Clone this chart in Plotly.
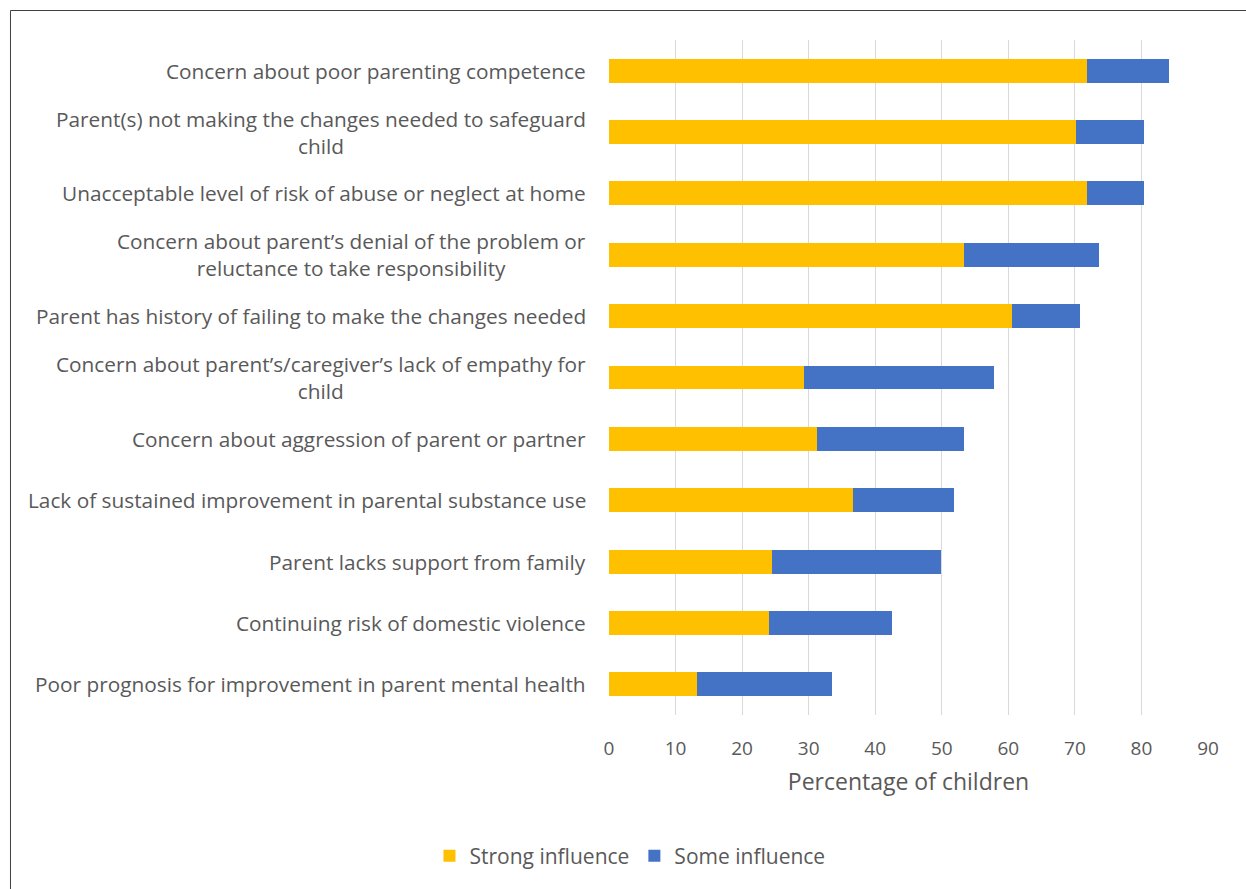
import plotly.graph_objects as go

categories = [
    "Concern about poor parenting competence",
    "Parent(s) not making the changes needed to safeguard<br>child",
    "Unacceptable level of risk of abuse or neglect at home",
    "Concern about parent’s denial of the problem or<br>reluctance to take responsibility",
    "Parent has history of failing to make the changes needed",
    "Concern about parent’s/caregiver’s lack of empathy for<br>child",
    "Concern about aggression of parent or partner",
    "Lack of sustained improvement in parental substance use",
    "Parent lacks support from family",
    "Continuing risk of domestic violence",
    "Poor prognosis for improvement in parent mental health",
]
strong_influence = [71.8, 70.1, 71.8, 53.4, 60.5, 29.3, 31.2, 36.7, 24.5, 24.1, 13.2]
some_influence = [12.4, 10.3, 8.6, 20.2, 10.3, 28.6, 22.2, 15.1, 25.4, 18.4, 20.3]
x_ticks = [0, 10, 20, 30, 40, 50, 60, 70, 80, 90]

FONT = "'Open Sans', Lato, sans-serif"
TXT = "#595959"

fig = go.Figure()
fig.add_trace(go.Bar(y=categories, x=strong_influence, orientation="h",
                     name="Strong influence", marker=dict(color="#FFC000", line=dict(width=0))))
fig.add_trace(go.Bar(y=categories, x=some_influence, orientation="h",
                     name="Some influence", marker=dict(color="#4472C4", line=dict(width=0))))

for c in categories:
    fig.add_annotation(x=0, xref="paper", y=c, yref="y", text=c, showarrow=False,
                       xanchor="right", xshift=-21, align="center",
                       font=dict(family=FONT, size=20.8, color=TXT))

fig.add_shape(type="rect", xref="paper", yref="paper",
              x0=-0.9992, x1=1.2, y0=-0.4, y1=1.0437,
              line=dict(color="#404040", width=1), fillcolor="rgba(0,0,0,0)", layer="below")

fig.update_layout(
    width=1246, height=889,
    margin=dict(l=609, r=38, t=40, b=174),
    paper_bgcolor="white", plot_bgcolor="white",
    barmode="stack", bargap=0.61,
    font=dict(family=FONT, color=TXT),
    legend=dict(orientation="h", x=0.035, xanchor="center", y=-0.209, yanchor="middle",
                font=dict(family=FONT, size=21, color=TXT), traceorder="normal",
                itemwidth=30),
    xaxis=dict(range=[0, 90], tickvals=x_ticks, ticktext=[str(v) for v in x_ticks],
               showgrid=True, gridcolor="#D9D9D9", gridwidth=1.3, zeroline=False,
               ticks="outside", ticklen=16, tickcolor="rgba(0,0,0,0)",
               tickfont=dict(family=FONT, size=19, color=TXT),
               title=dict(text="Percentage of children", standoff=14,
                          font=dict(family=FONT, size=23, color=TXT)),
               showline=False, fixedrange=True),
    yaxis=dict(categoryorder="array", categoryarray=categories, autorange="reversed",
               showticklabels=False, showgrid=False, zeroline=False, showline=False,
               ticks="", fixedrange=True),
)

fig.write_html("out.html", config={"displayModeBar": False},
               post_script="document.body.style.margin='0';document.body.style.overflow='hidden';")
